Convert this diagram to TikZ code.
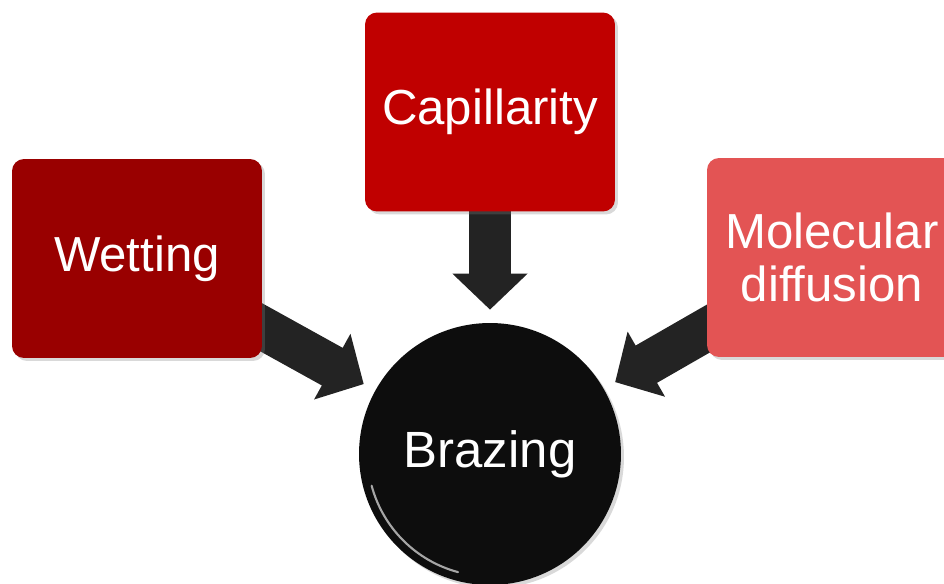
\documentclass[tikz,border=0pt]{standalone}
\usepackage{fontspec}
\setmainfont{Liberation Sans}
\usetikzlibrary{arrows.meta,shadows,backgrounds}
\definecolor{wetred}{HTML}{990000}
\definecolor{capred}{HTML}{C00000}
\definecolor{molred}{HTML}{E35454}
\definecolor{arrowgray}{HTML}{232323}
\begin{document}
\begin{tikzpicture}[x=0.02cm,y=0.02cm,
  box/.style={rounded corners=0.24cm, minimum width=5cm, minimum height=3.98cm,
    text=white, align=center, font=\fontsize{28}{30}\selectfont,
    drop shadow={opacity=0.3, shadow xshift=0.06cm, shadow yshift=-0.06cm}},
  bigarrow/.style={draw=arrowgray, line width=0.86cm,
    -{Triangle[width=1.46cm,length=0.72cm]}, shorten >=0.26cm}]
\useasboundingbox (0,0) rectangle (944,583);
\clip (0,0) rectangle (944,583);
\node[box, fill=wetred] (wet) at (137,324.5) {Wetting};
\node[box, fill=capred] (cap) at (490,471) {Capillarity};
\node[box, fill=molred] (mol) at (832,325.5) {Molecular\\diffusion};
\node[circle, fill=black!95, minimum size=5.24cm, text=white,
  font=\fontsize{29}{32}\selectfont,
  drop shadow={opacity=0.3, shadow xshift=0.06cm, shadow yshift=-0.06cm}] (braz) at (490,129) {Brazing};
\draw[gray!70, line width=1.2pt, line cap=round]
  ([shift={(15:5pt)}]braz.195) arc (195:255:2.62cm-5pt);
\begin{scope}[on background layer]
\draw[bigarrow] (wet.center) -- (braz);
\draw[bigarrow] (cap.center) -- (braz);
\draw[bigarrow] (mol.center) -- (braz);
\end{scope}
\end{tikzpicture}
\end{document}
